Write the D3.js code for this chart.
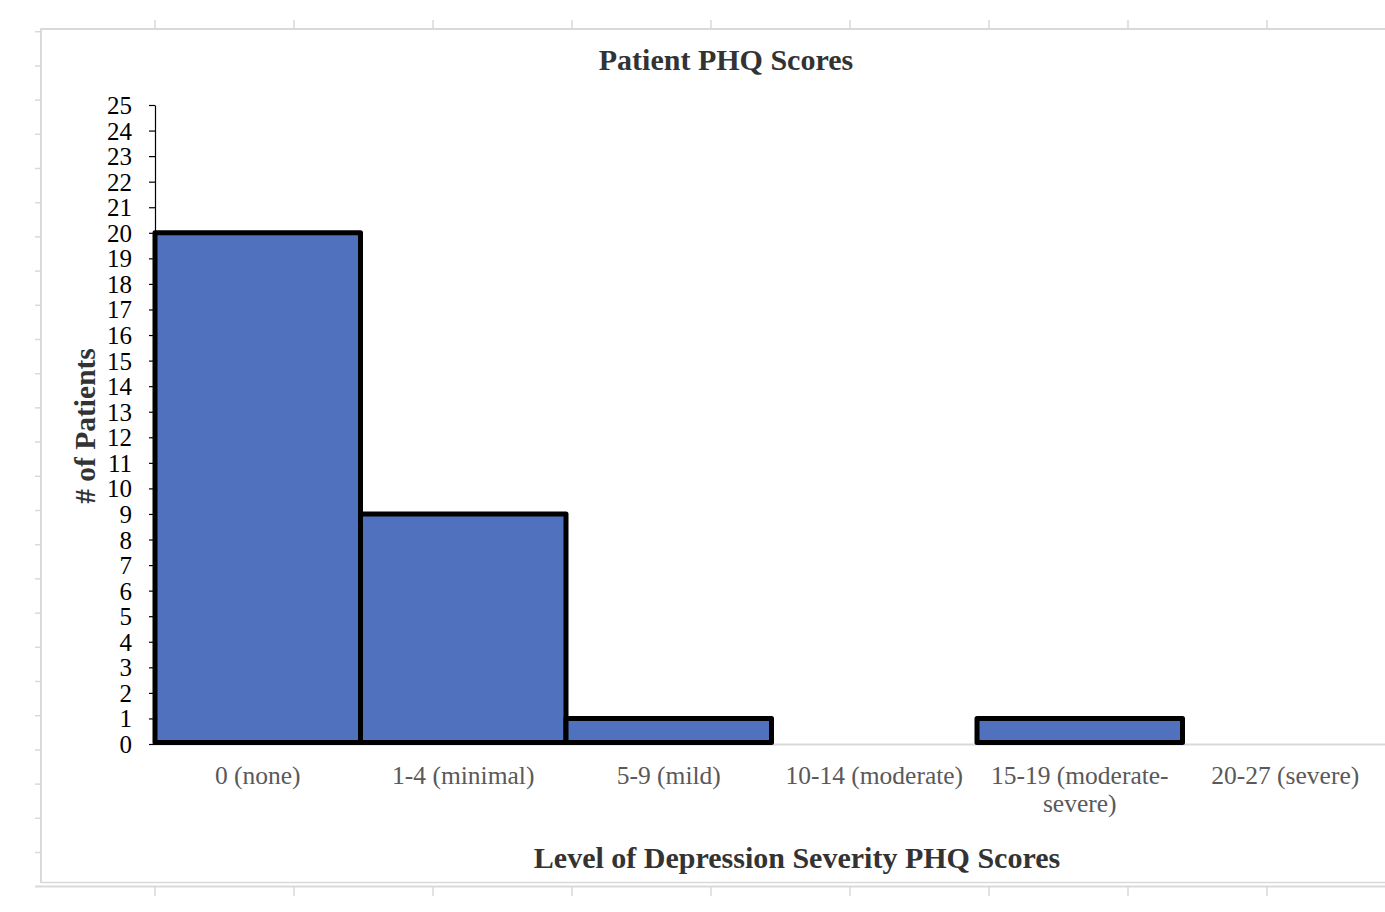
<!DOCTYPE html>
<html>
<head>
<meta charset="utf-8">
<script src="https://cdn.jsdelivr.net/npm/d3@7"></script>
<style>
  html, body { margin: 0; padding: 0; background: #fff; overflow: hidden; }
  svg { display: block; }
</style>
</head>
<body>
<script>
// PHQ severity bands and patient counts
const categories = ["0 (none)", "1-4 (minimal)", "5-9 (mild)", "10-14 (moderate)", "15-19 (moderate-severe)", "20-27 (severe)"];
const categoryLines = [["0 (none)"], ["1-4 (minimal)"], ["5-9 (mild)"], ["10-14 (moderate)"], ["15-19 (moderate-", "severe)"], ["20-27 (severe)"]];
const patients = [20, 9, 1, 0, 1, 0];
const yTicks = d3.range(0, 26);

const W = 1385, H = 912;
const serif = "'Liberation Serif', 'Times New Roman', serif";

const svg = d3.select("body").append("svg")
  .attr("width", W).attr("height", H);

// Page frame around the chart object
const frame = svg.append("g").attr("stroke", "#d9d9d9").attr("fill", "none");
frame.append("line").attr("x1", 41).attr("x2", W).attr("y1", 29).attr("y2", 29).attr("stroke-width", 2);
frame.append("line").attr("x1", 41).attr("x2", 41).attr("y1", 28).attr("y2", 883).attr("stroke-width", 2);
frame.append("line").attr("x1", 41).attr("x2", W).attr("y1", 882.5).attr("y2", 882.5).attr("stroke-width", 1.5);
frame.append("line").attr("x1", 35).attr("x2", W).attr("y1", 886.5).attr("y2", 886.5).attr("stroke-width", 2);
const rulerX = d3.range(155, W, 139);
frame.selectAll(".rt").data(rulerX).join("line")
  .attr("x1", d => d).attr("x2", d => d).attr("y1", 20).attr("y2", 29).attr("stroke-width", 1.5);
frame.selectAll(".rb").data(rulerX).join("line")
  .attr("x1", d => d).attr("x2", d => d).attr("y1", 886).attr("y2", 896).attr("stroke-width", 1.5);
const rulerY = d3.range(31.7, 860, 34.2);
frame.selectAll(".rl").data(rulerY).join("line")
  .attr("x1", 35).attr("x2", 41).attr("y1", d => d).attr("y2", d => d).attr("stroke-width", 1.5);

// Plot area
const x0 = 155, x1 = 1388, yTop = 105, yBottom = 744;
const x = d3.scaleBand().domain(categories).range([x0, x1]).padding(0);
const y = d3.scaleLinear().domain([0, 25]).range([yBottom, yTop]);

// Title
svg.append("text")
  .attr("x", 726).attr("y", 70)
  .attr("text-anchor", "middle")
  .attr("font-family", serif).attr("font-weight", "bold").attr("font-size", 30)
  .attr("fill", "#333")
  .text("Patient PHQ Scores");

// Category baseline
svg.append("line")
  .attr("x1", x0).attr("x2", W).attr("y1", yBottom + 0.5).attr("y2", yBottom + 0.5)
  .attr("stroke", "#d9d9d9").attr("stroke-width", 2);

// Bars
svg.append("g").selectAll("rect")
  .data(categories.map((c, i) => ({ c, v: patients[i] })).filter(d => d.v > 0))
  .join("rect")
  .attr("x", d => x(d.c))
  .attr("y", d => y(d.v))
  .attr("width", x.bandwidth())
  .attr("height", d => y(0) - y(d.v) - 1.5)
  .attr("fill", "#4f71be")
  .attr("stroke", "#000")
  .attr("stroke-width", 5)
  .attr("stroke-linejoin", "round");

// Y axis
const yAxis = svg.append("g")
  .attr("transform", `translate(${x0},0)`)
  .call(d3.axisLeft(y).tickValues(yTicks).tickSize(6).tickSizeOuter(0).tickPadding(17));
yAxis.select(".domain").attr("stroke", "#000").attr("stroke-width", 1.2);
yAxis.selectAll(".tick line").attr("stroke", "#000").attr("stroke-width", 1.2);
yAxis.selectAll(".tick text")
  .attr("font-family", serif).attr("font-size", 25).attr("fill", "#000")
  .attr("dy", "0.34em");

// Category labels
const xl = svg.append("g");
categories.forEach((c, i) => {
  const t = xl.append("text")
    .attr("x", x(c) + x.bandwidth() / 2)
    .attr("y", 784)
    .attr("text-anchor", "middle")
    .attr("font-family", serif).attr("font-size", 25.5).attr("fill", "#595959");
  categoryLines[i].forEach((ln, j) => {
    t.append("tspan").attr("x", x(c) + x.bandwidth() / 2).attr("dy", j === 0 ? 0 : 28).text(ln);
  });
});

// Axis titles
svg.append("text")
  .attr("x", 797).attr("y", 868)
  .attr("text-anchor", "middle")
  .attr("font-family", serif).attr("font-weight", "bold").attr("font-size", 30)
  .attr("fill", "#333")
  .text("Level of Depression Severity PHQ Scores");

svg.append("text")
  .attr("transform", "translate(95,426) rotate(-90)")
  .attr("text-anchor", "middle")
  .attr("font-family", serif).attr("font-weight", "bold").attr("font-size", 29.5)
  .attr("fill", "#333")
  .text("# of Patients");
</script>
</body>
</html>
